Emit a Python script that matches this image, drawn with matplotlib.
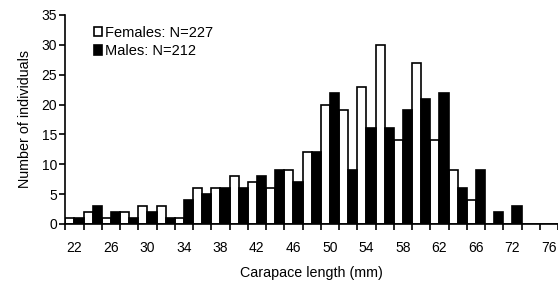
import matplotlib
matplotlib.use("Agg")
import matplotlib.pyplot as plt
import numpy as np

plt.rcParams['font.family'] = ['Liberation Sans', 'DejaVu Sans']

# 2 mm size classes (as labelled on the original axis)
categories = [22, 24, 26, 28, 30, 32, 34, 36, 38, 40, 42, 44, 46, 48, 50, 52,
              54, 56, 58, 60, 62, 64, 66, 68, 72, 74, 76]
females = [1, 2, 1, 2, 3, 3, 1, 6, 6, 8, 7, 6, 9, 12, 20, 19,
           23, 30, 14, 27, 14, 9, 4, 0, 0, 0, 0]
males = [1, 3, 2, 1, 2, 1, 4, 5, 6, 6, 8, 9, 7, 12, 22, 9,
         16, 16, 19, 21, 22, 6, 9, 2, 3, 0, 0]

fig = plt.figure(figsize=(5.58, 2.82), dpi=100)
ax = fig.add_axes([0.117, 0.206, 0.883, 0.741])

x = np.arange(len(categories))
ax.bar(x - 0.25, females, 0.5, color='white', edgecolor='black', linewidth=1.2,
       label='Females: N=227')
ax.bar(x + 0.25, males, 0.5, color='black', edgecolor='black', linewidth=1.2,
       label='Males: N=212')

ax.set_xlim(-0.5, len(categories) - 0.5)
ax.set_ylim(0, 35)
ax.set_yticks(range(0, 36, 5))

ax.set_xticks(x[::2])
ax.set_xticklabels([str(c) for c in categories[::2]])
ax.set_xticks(np.arange(-0.5, len(categories), 1), minor=True)
ax.tick_params(axis='x', which='major', length=0, pad=12, labelsize=10)
ax.tick_params(axis='x', which='minor', length=4, width=1.2, direction='out')
ax.tick_params(axis='y', length=4, width=1.2, direction='out', labelsize=10, pad=2)

for s in ['top', 'right']:
    ax.spines[s].set_visible(False)
for s in ['left', 'bottom']:
    ax.spines[s].set_linewidth(1.2)

ax.set_xlabel('Carapace length (mm)', fontsize=10.3, labelpad=8)
ax.set_ylabel('Number of individuals', fontsize=10.3, labelpad=7)

ax.legend(loc='upper left', bbox_to_anchor=(0.058, 0.948), frameon=False,
          fontsize=10.5, handlelength=0.55, handleheight=0.6, handletextpad=0.2,
          labelspacing=0.3, borderaxespad=0, borderpad=0)

fig.savefig('out.png', dpi=100)
